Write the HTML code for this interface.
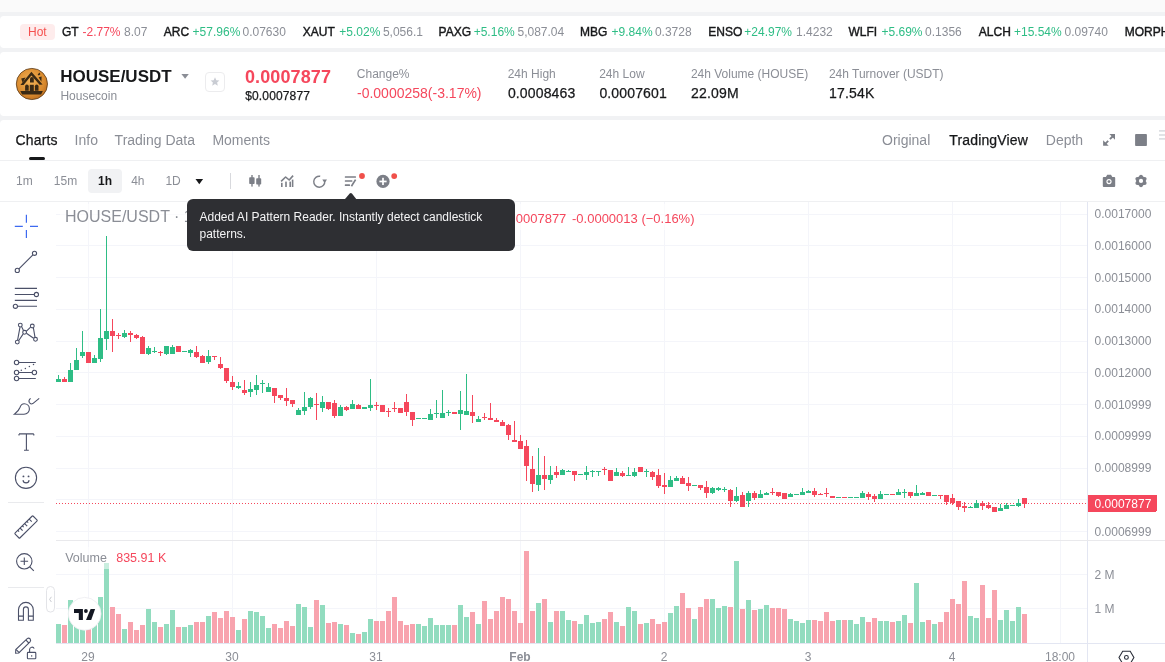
<!DOCTYPE html>
<html lang="en">
<head>
<meta charset="utf-8">
<title>HOUSE/USDT</title>
<style>
html,body{margin:0;padding:0;}
body{width:1165px;height:662px;overflow:hidden;position:relative;background:#f1f2f4;font-family:"Liberation Sans",Arial,sans-serif;}
.topband{position:absolute;left:0;top:0;width:1165px;height:12px;background:#fafafa;}
.card{position:absolute;background:#fff;border-radius:4px;}
.t{position:absolute;white-space:nowrap;}
.hot{position:absolute;left:20px;top:24px;width:35px;height:16px;border-radius:4px;background:#feecec;}
svg.ov{position:absolute;left:0;top:0;overflow:visible;}
.ax{font-size:12px;fill:#8b8e96;font-family:"Liberation Sans",Arial,sans-serif;}
text{font-family:"Liberation Sans",Arial,sans-serif;}
.hr{position:absolute;left:0;width:1165px;height:1px;background:#eff0f2;}
.tip{position:absolute;left:187px;top:199px;width:328px;height:52px;border-radius:6px;background:#2e2f33;}
.tip .tx{position:absolute;left:12.5px;top:9.8px;width:306px;color:#f4f4f5;font-size:12px;line-height:17.5px;}
</style>
</head>
<body>
<div id="wrap" style="position:absolute;left:0;top:0;width:1165px;height:662px;will-change:transform;">
<div class="topband"></div>
<div class="card" style="left:0;top:16px;width:1175px;height:32px;"></div>
<div class="card" style="left:0;top:52px;width:1175px;height:64px;"></div>
<div class="card" style="left:0;top:120px;width:1175px;height:560px;"></div>
<div class="hot"></div>
<div class="t" style="left:28px;top:25.8px;font-size:12px;line-height:12px;color:#f5514f;">Hot</div>

<!-- separators -->
<div class="hr" style="top:160px;"></div>
<div class="hr" style="top:201px;"></div>
<!-- 1h selected bg -->
<div style="position:absolute;left:88px;top:169px;width:34px;height:24px;border-radius:4px;background:#f1f2f4;"></div>
<!-- charts underline -->
<div style="position:absolute;left:29px;top:157px;width:16px;height:3px;border-radius:1.5px;background:#17181a;"></div>

<div class="t" style="left:62.0px;top:25.84px;font-size:12px;line-height:12px;color:#17181a;font-weight:400;-webkit-text-stroke:0.4px currentColor;">GT</div>
<div class="t" style="left:82.5px;top:25.84px;font-size:12px;line-height:12px;color:#f5475c;font-weight:400;">-2.77%</div>
<div class="t" style="left:124.1px;top:25.84px;font-size:12px;line-height:12px;color:#8b8e96;font-weight:400;">8.07</div>
<div class="t" style="left:163.8px;top:25.84px;font-size:12px;line-height:12px;color:#17181a;font-weight:400;-webkit-text-stroke:0.4px currentColor;">ARC</div>
<div class="t" style="left:192.6px;top:25.84px;font-size:12px;line-height:12px;color:#2ebd85;font-weight:400;">+57.96%</div>
<div class="t" style="left:242.5px;top:25.84px;font-size:12px;line-height:12px;color:#8b8e96;font-weight:400;">0.07630</div>
<div class="t" style="left:302.8px;top:25.84px;font-size:12px;line-height:12px;color:#17181a;font-weight:400;-webkit-text-stroke:0.4px currentColor;">XAUT</div>
<div class="t" style="left:339.3px;top:25.84px;font-size:12px;line-height:12px;color:#2ebd85;font-weight:400;">+5.02%</div>
<div class="t" style="left:382.9px;top:25.84px;font-size:12px;line-height:12px;color:#8b8e96;font-weight:400;">5,056.1</div>
<div class="t" style="left:438.6px;top:25.84px;font-size:12px;line-height:12px;color:#17181a;font-weight:400;-webkit-text-stroke:0.4px currentColor;">PAXG</div>
<div class="t" style="left:473.7px;top:25.84px;font-size:12px;line-height:12px;color:#2ebd85;font-weight:400;">+5.16%</div>
<div class="t" style="left:517.5px;top:25.84px;font-size:12px;line-height:12px;color:#8b8e96;font-weight:400;">5,087.04</div>
<div class="t" style="left:580.0px;top:25.84px;font-size:12px;line-height:12px;color:#17181a;font-weight:400;-webkit-text-stroke:0.4px currentColor;">MBG</div>
<div class="t" style="left:611.6px;top:25.84px;font-size:12px;line-height:12px;color:#2ebd85;font-weight:400;">+9.84%</div>
<div class="t" style="left:654.9px;top:25.84px;font-size:12px;line-height:12px;color:#8b8e96;font-weight:400;">0.3728</div>
<div class="t" style="left:708.3px;top:25.84px;font-size:12px;line-height:12px;color:#17181a;font-weight:400;-webkit-text-stroke:0.4px currentColor;">ENSO</div>
<div class="t" style="left:744.3px;top:25.84px;font-size:12px;line-height:12px;color:#2ebd85;font-weight:400;">+24.97%</div>
<div class="t" style="left:796.1px;top:25.84px;font-size:12px;line-height:12px;color:#8b8e96;font-weight:400;">1.4232</div>
<div class="t" style="left:848.5px;top:25.84px;font-size:12px;line-height:12px;color:#17181a;font-weight:400;-webkit-text-stroke:0.4px currentColor;">WLFI</div>
<div class="t" style="left:881.5px;top:25.84px;font-size:12px;line-height:12px;color:#2ebd85;font-weight:400;">+5.69%</div>
<div class="t" style="left:925.1px;top:25.84px;font-size:12px;line-height:12px;color:#8b8e96;font-weight:400;">0.1356</div>
<div class="t" style="left:978.8px;top:25.84px;font-size:12px;line-height:12px;color:#17181a;font-weight:400;-webkit-text-stroke:0.4px currentColor;">ALCH</div>
<div class="t" style="left:1014.0px;top:25.84px;font-size:12px;line-height:12px;color:#2ebd85;font-weight:400;">+15.54%</div>
<div class="t" style="left:1064.5px;top:25.84px;font-size:12px;line-height:12px;color:#8b8e96;font-weight:400;">0.09740</div>
<div class="t" style="left:1124.7px;top:25.84px;font-size:12px;line-height:12px;color:#17181a;font-weight:400;-webkit-text-stroke:0.4px currentColor;">MORPHO</div>
<div class="t" style="left:60.2px;top:68.21px;font-size:17px;line-height:17px;color:#17181a;font-weight:700;">HOUSE/USDT</div>
<div class="t" style="left:60.4px;top:89.84px;font-size:12px;line-height:12px;color:#8b8e96;font-weight:400;">Housecoin</div>
<div class="t" style="left:245.0px;top:67.56px;font-size:18px;line-height:18px;color:#f5475c;font-weight:700;letter-spacing:0.1px;">0.0007877</div>
<div class="t" style="left:245.2px;top:90.04px;font-size:12px;line-height:12px;color:#17181a;font-weight:400;-webkit-text-stroke:0.25px currentColor;letter-spacing:0.15px;">$0.0007877</div>
<div class="t" style="left:356.8px;top:67.74px;font-size:12px;line-height:12px;color:#8b8e96;font-weight:400;">Change%</div>
<div class="t" style="left:357.0px;top:86.15px;font-size:14px;line-height:14px;color:#f5475c;font-weight:400;">-0.0000258(-3.17%)</div>
<div class="t" style="left:507.7px;top:67.74px;font-size:12px;line-height:12px;color:#8b8e96;font-weight:400;">24h High</div>
<div class="t" style="left:507.9px;top:86.15px;font-size:14px;line-height:14px;color:#17181a;font-weight:400;-webkit-text-stroke:0.25px currentColor;letter-spacing:0.15px;">0.0008463</div>
<div class="t" style="left:599.2px;top:67.74px;font-size:12px;line-height:12px;color:#8b8e96;font-weight:400;">24h Low</div>
<div class="t" style="left:599.4px;top:86.15px;font-size:14px;line-height:14px;color:#17181a;font-weight:400;-webkit-text-stroke:0.25px currentColor;letter-spacing:0.15px;">0.0007601</div>
<div class="t" style="left:690.9px;top:67.74px;font-size:12px;line-height:12px;color:#8b8e96;font-weight:400;">24h Volume (HOUSE)</div>
<div class="t" style="left:691.1px;top:86.15px;font-size:14px;line-height:14px;color:#17181a;font-weight:400;-webkit-text-stroke:0.25px currentColor;letter-spacing:0.15px;">22.09M</div>
<div class="t" style="left:828.9px;top:67.74px;font-size:12px;line-height:12px;color:#8b8e96;font-weight:400;">24h Turnover (USDT)</div>
<div class="t" style="left:829.1px;top:86.15px;font-size:14px;line-height:14px;color:#17181a;font-weight:400;-webkit-text-stroke:0.25px currentColor;letter-spacing:0.15px;">17.54K</div>
<div class="t" style="left:15.6px;top:133.05px;font-size:14px;line-height:14px;color:#17181a;font-weight:400;-webkit-text-stroke:0.25px currentColor;letter-spacing:0.15px;">Charts</div>
<div class="t" style="left:74.6px;top:133.05px;font-size:14px;line-height:14px;color:#8b8e96;font-weight:400;">Info</div>
<div class="t" style="left:114.6px;top:133.05px;font-size:14px;line-height:14px;color:#8b8e96;font-weight:400;">Trading Data</div>
<div class="t" style="left:212.4px;top:133.05px;font-size:14px;line-height:14px;color:#8b8e96;font-weight:400;">Moments</div>
<div class="t" style="left:882.0px;top:133.05px;font-size:14px;line-height:14px;color:#8b8e96;font-weight:400;">Original</div>
<div class="t" style="left:949.3px;top:133.05px;font-size:14px;line-height:14px;color:#17181a;font-weight:400;-webkit-text-stroke:0.25px currentColor;letter-spacing:0.15px;">TradingView</div>
<div class="t" style="left:1045.8px;top:133.05px;font-size:14px;line-height:14px;color:#8b8e96;font-weight:400;">Depth</div>
<div class="t" style="left:16.0px;top:174.74px;font-size:12px;line-height:12px;color:#8b8e96;font-weight:400;">1m</div>
<div class="t" style="left:53.8px;top:174.74px;font-size:12px;line-height:12px;color:#8b8e96;font-weight:400;">15m</div>
<div class="t" style="left:98.0px;top:174.74px;font-size:12px;line-height:12px;color:#17181a;font-weight:700;">1h</div>
<div class="t" style="left:131.2px;top:174.74px;font-size:12px;line-height:12px;color:#8b8e96;font-weight:400;">4h</div>
<div class="t" style="left:165.4px;top:174.74px;font-size:12px;line-height:12px;color:#8b8e96;font-weight:400;">1D</div>

<!-- header icons -->
<svg class="ov" width="1165" height="662" viewBox="0 0 1165 662">
  <defs>
    <radialGradient id="coin" cx="45%" cy="40%" r="65%">
      <stop offset="0" stop-color="#f3b358"/>
      <stop offset="0.7" stop-color="#d98a2e"/>
      <stop offset="1" stop-color="#b8681c"/>
    </radialGradient>
  </defs>
  <!-- logo -->
  <circle cx="31.9" cy="84" r="15.6" fill="url(#coin)" stroke="#5a3a18" stroke-width="0.8"/>
  <g fill="#3a2914">
    <path d="M20.4 84.9 L31.4 71.7 L42.6 84.5 L39.6 84.7 L31.4 75.4 L23.6 85.1 Z"/>
    <path d="M21.2 78.4 L25.6 77.6 L22.6 82.8 Z"/>
    <path d="M38.6 77.2 L41.6 76.6 L41.4 81.8 Z"/>
    <path d="M37.6 74.4 L39.6 72.6 L40.4 74.2 L38.8 75.6 Z"/>
    <path d="M30 82.6 V78.9 A1.9 1.9 0 0 1 33.8 78.9 V82.6 Z"/>
    <path d="M25.1 90.7 V86.3 A1.8 1.8 0 0 1 28.7 86.3 V90.7 Z"/>
    <rect x="29.8" y="84.8" width="4" height="6.8"/>
    <path d="M34.9 90.7 V86.3 A1.8 1.8 0 0 1 38.5 86.3 V90.7 Z"/>
    <path d="M20.3 91 H42.9 L41.1 94.6 H22.1 Z"/>
  </g>
  <!-- dropdown triangle -->
  <path d="M181.4 74 H188.8 L185.1 78.8 Z" fill="#8b8e96"/>
  <!-- star button -->
  <rect x="205.5" y="72.5" width="19" height="19" rx="3.5" fill="#fff" stroke="#ececee" stroke-width="1"/>
  <path d="M215 77.3 L216.3 80.2 L219.4 80.5 L217.1 82.6 L217.8 85.7 L215 84.1 L212.2 85.7 L212.9 82.6 L210.6 80.5 L213.7 80.2 Z" fill="#c9ccd3"/>

  <!-- tabs right icons -->
  <g fill="#7c7f87">
    <path d="M1109.4 134.1 H1115 V139.7 Z"/>
    <path d="M1108.7 145.8 H1103.1 V140.2 Z"/>
    <rect x="1135.1" y="134.1" width="11.8" height="11.9" rx="0.8"/>
  </g>
  <path d="M1112.6 136.5 L1109.9 139.2 M1108.2 140.9 L1105.5 143.6" stroke="#7c7f87" stroke-width="1.9" fill="none"/>
  <g fill="#d5d7dc">
    <rect x="1159" y="130.2" width="8" height="1.4"/>
    <rect x="1159" y="134.3" width="8" height="1.4"/>
    <rect x="1159" y="138.2" width="8" height="1.4"/>
  </g>

  <!-- toolbar icons -->
  <!-- triangle -->
  <path d="M195.5 179 H203.1 L199.3 184.3 Z" fill="#17181a"/>
  <rect x="230" y="173" width="1" height="16" fill="#d8d9dd"/>
  <g fill="#7c7f87">
    <!-- candles icon -->
    <rect x="251.3" y="175" width="1.4" height="11.6"/>
    <rect x="249.2" y="177.3" width="5.4" height="6.8" rx="0.8"/>
    <rect x="258.3" y="175" width="1.4" height="11.6"/>
    <rect x="256.2" y="178.3" width="5.0" height="6.3" rx="0.8"/>
    <!-- indicators icon -->
    <rect x="281" y="182.8" width="1.6" height="4.2"/>
    <rect x="285.2" y="181.6" width="1.6" height="5.4"/>
    <rect x="289.4" y="181.6" width="1.6" height="5.4"/>
    <rect x="291.8" y="179.6" width="1.6" height="7.4"/>
  </g>
  <path d="M281.1 181.3 L285.6 177 L289.2 180 L293.1 175.6" fill="none" stroke="#7c7f87" stroke-width="1.6" stroke-linejoin="round"/>
  <!-- refresh -->
  <path d="M320.2 176.3 A5.5 5.5 0 1 0 324.7 181" fill="none" stroke="#7c7f87" stroke-width="1.4"/>
  <path d="M322.3 179.6 L327 179.6 L324.6 183 Z" fill="#7c7f87"/>
  <!-- pattern reader -->
  <g fill="#7c7f87">
    <rect x="344.8" y="176.2" width="11.2" height="1.6" rx="0.5"/>
    <rect x="344.8" y="180.2" width="7.6" height="1.6" rx="0.5"/>
    <rect x="344.8" y="184.3" width="5.2" height="1.6" rx="0.5"/>
  </g>
  <path d="M351.4 186.2 L355.6 179.6" stroke="#7c7f87" stroke-width="1.7" fill="none"/>
  <circle cx="362" cy="176" r="2.9" fill="#f0504a"/>
  <!-- add indicator -->
  <circle cx="383" cy="181.4" r="6.6" fill="#7c7f87"/>
  <rect x="379.4" y="180.6" width="7.2" height="1.7" fill="#fff"/>
  <rect x="382.15" y="177.8" width="1.7" height="7.2" fill="#fff"/>
  <circle cx="394.2" cy="176.1" r="2.9" fill="#f0504a"/>

  <!-- camera -->
  <path d="M1105.9 176.9 L1107.2 174.8 H1111 L1112.3 176.9 H1114.2 Q1115.2 176.9 1115.2 177.9 V186 Q1115.2 187 1114.2 187 H1103.8 Q1102.8 187 1102.8 186 V177.9 Q1102.8 176.9 1103.8 176.9 Z" fill="#7c7f87"/>
  <circle cx="1109" cy="181.6" r="2.6" fill="#fff"/>
  <circle cx="1109" cy="181.6" r="1.4" fill="#7c7f87"/>
  <!-- gear -->
  <circle cx="1141" cy="180.95" r="4.9" fill="#7c7f87"/>
  <circle cx="1141.00" cy="185.25" r="1.9" fill="#7c7f87"/>
  <circle cx="1137.28" cy="183.10" r="1.9" fill="#7c7f87"/>
  <circle cx="1137.28" cy="178.80" r="1.9" fill="#7c7f87"/>
  <circle cx="1141.00" cy="176.65" r="1.9" fill="#7c7f87"/>
  <circle cx="1144.72" cy="178.80" r="1.9" fill="#7c7f87"/>
  <circle cx="1144.72" cy="183.10" r="1.9" fill="#7c7f87"/>
  <circle cx="1141" cy="180.95" r="2.1" fill="#fff"/>
</svg>

<!-- chart -->
<svg class="ov" width="1165" height="662" viewBox="0 0 1165 662" shape-rendering="crispEdges">
<rect x="56" y="214" width="1031" height="1" fill="#f4f5fa"/>
<rect x="56" y="245" width="1031" height="1" fill="#f4f5fa"/>
<rect x="56" y="277" width="1031" height="1" fill="#f4f5fa"/>
<rect x="56" y="309" width="1031" height="1" fill="#f4f5fa"/>
<rect x="56" y="341" width="1031" height="1" fill="#f4f5fa"/>
<rect x="56" y="372" width="1031" height="1" fill="#f4f5fa"/>
<rect x="56" y="404" width="1031" height="1" fill="#f4f5fa"/>
<rect x="56" y="436" width="1031" height="1" fill="#f4f5fa"/>
<rect x="56" y="468" width="1031" height="1" fill="#f4f5fa"/>
<rect x="56" y="499" width="1031" height="1" fill="#f4f5fa"/>
<rect x="56" y="531" width="1031" height="1" fill="#f4f5fa"/>
<rect x="56" y="574" width="1031" height="1" fill="#f4f5fa"/>
<rect x="56" y="608" width="1031" height="1" fill="#f4f5fa"/>
<rect x="88" y="202" width="1" height="441" fill="#f4f5fa"/>
<rect x="232" y="202" width="1" height="441" fill="#f4f5fa"/>
<rect x="376" y="202" width="1" height="441" fill="#f4f5fa"/>
<rect x="520" y="202" width="1" height="441" fill="#f4f5fa"/>
<rect x="664" y="202" width="1" height="441" fill="#f4f5fa"/>
<rect x="808" y="202" width="1" height="441" fill="#f4f5fa"/>
<rect x="952" y="202" width="1" height="441" fill="#f4f5fa"/>
<rect x="1060" y="202" width="1" height="441" fill="#f4f5fa"/>
<rect x="1087" y="202" width="1" height="460" fill="#e3e6f2"/>
<rect x="56" y="540" width="1109" height="1" fill="#e9e9ec"/>
<rect x="56" y="643" width="1109" height="1" fill="#e3e6f2"/>
<rect x="56" y="624" width="5" height="19" fill="#92dcbf"/>
<rect x="62" y="625" width="5" height="18" fill="#f8a3ae"/>
<rect x="68" y="600" width="5" height="43" fill="#92dcbf"/>
<rect x="74" y="605" width="5" height="38" fill="#92dcbf"/>
<rect x="80" y="612" width="5" height="31" fill="#92dcbf"/>
<rect x="86" y="615" width="5" height="28" fill="#f8a3ae"/>
<rect x="92" y="610" width="5" height="33" fill="#92dcbf"/>
<rect x="98" y="597" width="5" height="46" fill="#92dcbf"/>
<rect x="104" y="563" width="5" height="80" fill="#92dcbf"/>
<rect x="110" y="607" width="5" height="36" fill="#f8a3ae"/>
<rect x="116" y="614" width="5" height="29" fill="#f8a3ae"/>
<rect x="122" y="629" width="5" height="14" fill="#92dcbf"/>
<rect x="128" y="622" width="5" height="21" fill="#f8a3ae"/>
<rect x="134" y="630" width="5" height="13" fill="#f8a3ae"/>
<rect x="140" y="625" width="5" height="18" fill="#f8a3ae"/>
<rect x="146" y="609" width="5" height="34" fill="#92dcbf"/>
<rect x="152" y="622" width="5" height="21" fill="#92dcbf"/>
<rect x="158" y="627" width="5" height="16" fill="#f8a3ae"/>
<rect x="164" y="624" width="5" height="19" fill="#92dcbf"/>
<rect x="170" y="610" width="5" height="33" fill="#92dcbf"/>
<rect x="176" y="627" width="5" height="16" fill="#f8a3ae"/>
<rect x="182" y="627" width="5" height="16" fill="#92dcbf"/>
<rect x="188" y="625" width="5" height="18" fill="#92dcbf"/>
<rect x="194" y="622" width="5" height="21" fill="#f8a3ae"/>
<rect x="200" y="622" width="5" height="21" fill="#f8a3ae"/>
<rect x="206" y="616" width="5" height="27" fill="#92dcbf"/>
<rect x="212" y="612" width="5" height="31" fill="#f8a3ae"/>
<rect x="218" y="618" width="5" height="25" fill="#f8a3ae"/>
<rect x="224" y="611" width="5" height="32" fill="#f8a3ae"/>
<rect x="230" y="617" width="5" height="26" fill="#f8a3ae"/>
<rect x="236" y="630" width="5" height="13" fill="#92dcbf"/>
<rect x="242" y="619" width="5" height="24" fill="#f8a3ae"/>
<rect x="248" y="611" width="5" height="32" fill="#92dcbf"/>
<rect x="254" y="612" width="5" height="31" fill="#92dcbf"/>
<rect x="260" y="616" width="5" height="27" fill="#92dcbf"/>
<rect x="266" y="628" width="5" height="15" fill="#92dcbf"/>
<rect x="272" y="624" width="5" height="19" fill="#f8a3ae"/>
<rect x="278" y="628" width="5" height="15" fill="#f8a3ae"/>
<rect x="284" y="621" width="5" height="22" fill="#f8a3ae"/>
<rect x="290" y="626" width="5" height="17" fill="#f8a3ae"/>
<rect x="296" y="604" width="5" height="39" fill="#92dcbf"/>
<rect x="302" y="607" width="5" height="36" fill="#92dcbf"/>
<rect x="308" y="627" width="5" height="16" fill="#92dcbf"/>
<rect x="314" y="600" width="5" height="43" fill="#f8a3ae"/>
<rect x="320" y="605" width="5" height="38" fill="#92dcbf"/>
<rect x="326" y="623" width="5" height="20" fill="#f8a3ae"/>
<rect x="332" y="622" width="5" height="21" fill="#f8a3ae"/>
<rect x="338" y="624" width="5" height="19" fill="#92dcbf"/>
<rect x="344" y="625" width="5" height="18" fill="#f8a3ae"/>
<rect x="350" y="633" width="5" height="10" fill="#92dcbf"/>
<rect x="356" y="634" width="5" height="9" fill="#f8a3ae"/>
<rect x="362" y="632" width="5" height="11" fill="#92dcbf"/>
<rect x="368" y="619" width="5" height="24" fill="#92dcbf"/>
<rect x="374" y="621" width="5" height="22" fill="#f8a3ae"/>
<rect x="380" y="621" width="5" height="22" fill="#f8a3ae"/>
<rect x="386" y="611" width="5" height="32" fill="#f8a3ae"/>
<rect x="392" y="597" width="5" height="46" fill="#f8a3ae"/>
<rect x="398" y="621" width="5" height="22" fill="#f8a3ae"/>
<rect x="404" y="625" width="5" height="18" fill="#f8a3ae"/>
<rect x="410" y="624" width="5" height="19" fill="#f8a3ae"/>
<rect x="416" y="624" width="5" height="19" fill="#92dcbf"/>
<rect x="422" y="626" width="5" height="17" fill="#92dcbf"/>
<rect x="428" y="618" width="5" height="25" fill="#92dcbf"/>
<rect x="434" y="625" width="5" height="18" fill="#92dcbf"/>
<rect x="440" y="625" width="5" height="18" fill="#92dcbf"/>
<rect x="446" y="625" width="5" height="18" fill="#92dcbf"/>
<rect x="452" y="625" width="5" height="18" fill="#f8a3ae"/>
<rect x="458" y="605" width="5" height="38" fill="#92dcbf"/>
<rect x="464" y="617" width="5" height="26" fill="#92dcbf"/>
<rect x="470" y="612" width="5" height="31" fill="#f8a3ae"/>
<rect x="476" y="624" width="5" height="19" fill="#92dcbf"/>
<rect x="482" y="601" width="5" height="42" fill="#f8a3ae"/>
<rect x="488" y="619" width="5" height="24" fill="#f8a3ae"/>
<rect x="494" y="611" width="5" height="32" fill="#f8a3ae"/>
<rect x="500" y="597" width="5" height="46" fill="#f8a3ae"/>
<rect x="506" y="599" width="5" height="44" fill="#f8a3ae"/>
<rect x="512" y="611" width="5" height="32" fill="#f8a3ae"/>
<rect x="518" y="623" width="5" height="20" fill="#f8a3ae"/>
<rect x="524" y="551" width="5" height="92" fill="#f8a3ae"/>
<rect x="530" y="611" width="5" height="32" fill="#f8a3ae"/>
<rect x="536" y="603" width="5" height="40" fill="#92dcbf"/>
<rect x="542" y="599" width="5" height="44" fill="#f8a3ae"/>
<rect x="548" y="622" width="5" height="21" fill="#92dcbf"/>
<rect x="554" y="611" width="5" height="32" fill="#f8a3ae"/>
<rect x="560" y="611" width="5" height="32" fill="#92dcbf"/>
<rect x="566" y="620" width="5" height="23" fill="#92dcbf"/>
<rect x="572" y="621" width="5" height="22" fill="#f8a3ae"/>
<rect x="578" y="624" width="5" height="19" fill="#92dcbf"/>
<rect x="584" y="615" width="5" height="28" fill="#92dcbf"/>
<rect x="590" y="623" width="5" height="20" fill="#92dcbf"/>
<rect x="596" y="622" width="5" height="21" fill="#92dcbf"/>
<rect x="602" y="619" width="5" height="24" fill="#f8a3ae"/>
<rect x="608" y="612" width="5" height="31" fill="#f8a3ae"/>
<rect x="614" y="622" width="5" height="21" fill="#92dcbf"/>
<rect x="620" y="626" width="5" height="17" fill="#f8a3ae"/>
<rect x="626" y="607" width="5" height="36" fill="#92dcbf"/>
<rect x="632" y="611" width="5" height="32" fill="#92dcbf"/>
<rect x="638" y="624" width="5" height="19" fill="#f8a3ae"/>
<rect x="644" y="623" width="5" height="20" fill="#92dcbf"/>
<rect x="650" y="619" width="5" height="24" fill="#f8a3ae"/>
<rect x="656" y="624" width="5" height="19" fill="#f8a3ae"/>
<rect x="662" y="622" width="5" height="21" fill="#f8a3ae"/>
<rect x="668" y="613" width="5" height="30" fill="#92dcbf"/>
<rect x="674" y="606" width="5" height="37" fill="#92dcbf"/>
<rect x="680" y="593" width="5" height="50" fill="#f8a3ae"/>
<rect x="686" y="608" width="5" height="35" fill="#f8a3ae"/>
<rect x="692" y="619" width="5" height="24" fill="#92dcbf"/>
<rect x="698" y="607" width="5" height="36" fill="#f8a3ae"/>
<rect x="704" y="599" width="5" height="44" fill="#f8a3ae"/>
<rect x="710" y="599" width="5" height="44" fill="#92dcbf"/>
<rect x="716" y="608" width="5" height="35" fill="#92dcbf"/>
<rect x="722" y="606" width="5" height="37" fill="#92dcbf"/>
<rect x="728" y="607" width="5" height="36" fill="#f8a3ae"/>
<rect x="734" y="561" width="5" height="82" fill="#92dcbf"/>
<rect x="740" y="609" width="5" height="34" fill="#f8a3ae"/>
<rect x="746" y="600" width="5" height="43" fill="#92dcbf"/>
<rect x="752" y="610" width="5" height="33" fill="#f8a3ae"/>
<rect x="758" y="609" width="5" height="34" fill="#92dcbf"/>
<rect x="764" y="605" width="5" height="38" fill="#92dcbf"/>
<rect x="770" y="608" width="5" height="35" fill="#f8a3ae"/>
<rect x="776" y="608" width="5" height="35" fill="#f8a3ae"/>
<rect x="782" y="609" width="5" height="34" fill="#f8a3ae"/>
<rect x="788" y="619" width="5" height="24" fill="#92dcbf"/>
<rect x="794" y="621" width="5" height="22" fill="#92dcbf"/>
<rect x="800" y="623" width="5" height="20" fill="#92dcbf"/>
<rect x="806" y="620" width="5" height="23" fill="#92dcbf"/>
<rect x="812" y="620" width="5" height="23" fill="#f8a3ae"/>
<rect x="818" y="621" width="5" height="22" fill="#f8a3ae"/>
<rect x="824" y="612" width="5" height="31" fill="#f8a3ae"/>
<rect x="830" y="621" width="5" height="22" fill="#f8a3ae"/>
<rect x="836" y="620" width="5" height="23" fill="#92dcbf"/>
<rect x="842" y="620" width="5" height="23" fill="#f8a3ae"/>
<rect x="848" y="620" width="5" height="23" fill="#92dcbf"/>
<rect x="854" y="624" width="5" height="19" fill="#92dcbf"/>
<rect x="860" y="617" width="5" height="26" fill="#92dcbf"/>
<rect x="866" y="622" width="5" height="21" fill="#f8a3ae"/>
<rect x="872" y="618" width="5" height="25" fill="#f8a3ae"/>
<rect x="878" y="621" width="5" height="22" fill="#92dcbf"/>
<rect x="884" y="621" width="5" height="22" fill="#92dcbf"/>
<rect x="890" y="622" width="5" height="21" fill="#f8a3ae"/>
<rect x="896" y="621" width="5" height="22" fill="#92dcbf"/>
<rect x="902" y="615" width="5" height="28" fill="#92dcbf"/>
<rect x="908" y="623" width="5" height="20" fill="#f8a3ae"/>
<rect x="914" y="583" width="5" height="60" fill="#92dcbf"/>
<rect x="920" y="622" width="5" height="21" fill="#92dcbf"/>
<rect x="926" y="620" width="5" height="23" fill="#f8a3ae"/>
<rect x="932" y="624" width="5" height="19" fill="#92dcbf"/>
<rect x="938" y="622" width="5" height="21" fill="#f8a3ae"/>
<rect x="944" y="612" width="5" height="31" fill="#f8a3ae"/>
<rect x="950" y="599" width="5" height="44" fill="#f8a3ae"/>
<rect x="956" y="604" width="5" height="39" fill="#f8a3ae"/>
<rect x="962" y="581" width="5" height="62" fill="#f8a3ae"/>
<rect x="968" y="616" width="5" height="27" fill="#92dcbf"/>
<rect x="974" y="618" width="5" height="25" fill="#92dcbf"/>
<rect x="980" y="585" width="5" height="58" fill="#f8a3ae"/>
<rect x="986" y="618" width="5" height="25" fill="#f8a3ae"/>
<rect x="992" y="590" width="5" height="53" fill="#f8a3ae"/>
<rect x="998" y="620" width="5" height="23" fill="#92dcbf"/>
<rect x="1004" y="610" width="5" height="33" fill="#92dcbf"/>
<rect x="1010" y="621" width="5" height="22" fill="#92dcbf"/>
<rect x="1016" y="607" width="5" height="36" fill="#92dcbf"/>
<rect x="1022" y="614" width="5" height="29" fill="#f8a3ae"/>
<rect x="60" y="547" width="112" height="22" fill="#ffffff" fill-opacity="0.5"/>
<line x1="56" y1="503.5" x2="1087" y2="503.5" stroke="#f5475c" stroke-width="1" stroke-dasharray="1 2"/>
<rect x="58" y="375" width="1" height="7" fill="#2ebd85"/>
<rect x="56" y="379" width="5" height="3" fill="#2ebd85"/>
<rect x="64" y="377" width="1" height="5" fill="#f5475c"/>
<rect x="62" y="379" width="5" height="3" fill="#f5475c"/>
<rect x="70" y="363" width="1" height="19" fill="#2ebd85"/>
<rect x="68" y="370" width="5" height="12" fill="#2ebd85"/>
<rect x="76" y="348" width="1" height="22" fill="#2ebd85"/>
<rect x="74" y="360" width="5" height="10" fill="#2ebd85"/>
<rect x="82" y="331" width="1" height="27" fill="#2ebd85"/>
<rect x="80" y="352" width="5" height="4" fill="#2ebd85"/>
<rect x="86" y="352" width="5" height="11" fill="#f5475c"/>
<rect x="94" y="355" width="1" height="8" fill="#2ebd85"/>
<rect x="92" y="358" width="5" height="5" fill="#2ebd85"/>
<rect x="100" y="309" width="1" height="53" fill="#2ebd85"/>
<rect x="98" y="338" width="5" height="21" fill="#2ebd85"/>
<rect x="106" y="236" width="1" height="114" fill="#2ebd85"/>
<rect x="104" y="331" width="5" height="8" fill="#2ebd85"/>
<rect x="112" y="319" width="1" height="33" fill="#f5475c"/>
<rect x="110" y="331" width="5" height="5" fill="#f5475c"/>
<rect x="118" y="333" width="1" height="6" fill="#f5475c"/>
<rect x="116" y="335" width="5" height="1" fill="#f5475c"/>
<rect x="124" y="330" width="1" height="8" fill="#2ebd85"/>
<rect x="122" y="333" width="5" height="4" fill="#2ebd85"/>
<rect x="130" y="331" width="1" height="11" fill="#f5475c"/>
<rect x="128" y="333" width="5" height="2" fill="#f5475c"/>
<rect x="136" y="334" width="1" height="5" fill="#f5475c"/>
<rect x="134" y="335" width="5" height="3" fill="#f5475c"/>
<rect x="142" y="336" width="1" height="18" fill="#f5475c"/>
<rect x="140" y="337" width="5" height="17" fill="#f5475c"/>
<rect x="148" y="346" width="1" height="9" fill="#2ebd85"/>
<rect x="146" y="348" width="5" height="6" fill="#2ebd85"/>
<rect x="154" y="347" width="1" height="6" fill="#2ebd85"/>
<rect x="152" y="351" width="5" height="1" fill="#2ebd85"/>
<rect x="160" y="351" width="1" height="5" fill="#f5475c"/>
<rect x="158" y="352" width="5" height="1" fill="#f5475c"/>
<rect x="166" y="346" width="1" height="9" fill="#2ebd85"/>
<rect x="164" y="346" width="5" height="8" fill="#2ebd85"/>
<rect x="172" y="345" width="1" height="9" fill="#2ebd85"/>
<rect x="170" y="347" width="5" height="7" fill="#2ebd85"/>
<rect x="176" y="346" width="5" height="6" fill="#f5475c"/>
<rect x="182" y="351" width="5" height="1" fill="#2ebd85"/>
<rect x="190" y="349" width="1" height="8" fill="#2ebd85"/>
<rect x="188" y="350" width="5" height="3" fill="#2ebd85"/>
<rect x="196" y="346" width="1" height="12" fill="#f5475c"/>
<rect x="194" y="352" width="5" height="5" fill="#f5475c"/>
<rect x="202" y="355" width="1" height="8" fill="#f5475c"/>
<rect x="200" y="356" width="5" height="7" fill="#f5475c"/>
<rect x="208" y="350" width="1" height="14" fill="#2ebd85"/>
<rect x="206" y="356" width="5" height="6" fill="#2ebd85"/>
<rect x="214" y="356" width="1" height="4" fill="#f5475c"/>
<rect x="212" y="356" width="5" height="1" fill="#f5475c"/>
<rect x="220" y="357" width="1" height="12" fill="#f5475c"/>
<rect x="218" y="364" width="5" height="4" fill="#f5475c"/>
<rect x="226" y="368" width="1" height="15" fill="#f5475c"/>
<rect x="224" y="368" width="5" height="13" fill="#f5475c"/>
<rect x="232" y="376" width="1" height="14" fill="#f5475c"/>
<rect x="230" y="382" width="5" height="5" fill="#f5475c"/>
<rect x="238" y="382" width="1" height="7" fill="#2ebd85"/>
<rect x="236" y="386" width="5" height="2" fill="#2ebd85"/>
<rect x="244" y="380" width="1" height="15" fill="#f5475c"/>
<rect x="242" y="390" width="5" height="3" fill="#f5475c"/>
<rect x="250" y="382" width="1" height="15" fill="#2ebd85"/>
<rect x="248" y="389" width="5" height="3" fill="#2ebd85"/>
<rect x="256" y="375" width="1" height="20" fill="#2ebd85"/>
<rect x="254" y="385" width="5" height="5" fill="#2ebd85"/>
<rect x="262" y="380" width="1" height="13" fill="#2ebd85"/>
<rect x="260" y="383" width="5" height="1" fill="#2ebd85"/>
<rect x="268" y="383" width="1" height="9" fill="#2ebd85"/>
<rect x="266" y="387" width="5" height="5" fill="#2ebd85"/>
<rect x="274" y="388" width="1" height="15" fill="#f5475c"/>
<rect x="272" y="388" width="5" height="8" fill="#f5475c"/>
<rect x="280" y="395" width="1" height="5" fill="#f5475c"/>
<rect x="278" y="395" width="5" height="3" fill="#f5475c"/>
<rect x="286" y="388" width="1" height="18" fill="#f5475c"/>
<rect x="284" y="398" width="5" height="3" fill="#f5475c"/>
<rect x="292" y="400" width="1" height="7" fill="#f5475c"/>
<rect x="290" y="400" width="5" height="4" fill="#f5475c"/>
<rect x="298" y="408" width="1" height="7" fill="#2ebd85"/>
<rect x="296" y="410" width="5" height="5" fill="#2ebd85"/>
<rect x="304" y="392" width="1" height="23" fill="#2ebd85"/>
<rect x="302" y="407" width="5" height="4" fill="#2ebd85"/>
<rect x="310" y="397" width="1" height="12" fill="#2ebd85"/>
<rect x="308" y="398" width="5" height="9" fill="#2ebd85"/>
<rect x="316" y="393" width="1" height="27" fill="#f5475c"/>
<rect x="314" y="404" width="5" height="1" fill="#f5475c"/>
<rect x="322" y="396" width="1" height="16" fill="#2ebd85"/>
<rect x="320" y="402" width="5" height="6" fill="#2ebd85"/>
<rect x="328" y="402" width="1" height="8" fill="#f5475c"/>
<rect x="326" y="402" width="5" height="7" fill="#f5475c"/>
<rect x="334" y="400" width="1" height="18" fill="#f5475c"/>
<rect x="332" y="403" width="5" height="13" fill="#f5475c"/>
<rect x="340" y="405" width="1" height="11" fill="#2ebd85"/>
<rect x="338" y="407" width="5" height="9" fill="#2ebd85"/>
<rect x="346" y="406" width="1" height="5" fill="#f5475c"/>
<rect x="344" y="407" width="5" height="3" fill="#f5475c"/>
<rect x="352" y="400" width="1" height="9" fill="#2ebd85"/>
<rect x="350" y="404" width="5" height="5" fill="#2ebd85"/>
<rect x="358" y="404" width="1" height="5" fill="#f5475c"/>
<rect x="356" y="405" width="5" height="4" fill="#f5475c"/>
<rect x="362" y="407" width="5" height="2" fill="#2ebd85"/>
<rect x="370" y="379" width="1" height="32" fill="#2ebd85"/>
<rect x="368" y="405" width="5" height="3" fill="#2ebd85"/>
<rect x="376" y="402" width="1" height="8" fill="#f5475c"/>
<rect x="374" y="405" width="5" height="1" fill="#f5475c"/>
<rect x="380" y="405" width="5" height="7" fill="#f5475c"/>
<rect x="388" y="408" width="1" height="9" fill="#f5475c"/>
<rect x="386" y="411" width="5" height="1" fill="#f5475c"/>
<rect x="394" y="402" width="1" height="10" fill="#f5475c"/>
<rect x="392" y="408" width="5" height="1" fill="#f5475c"/>
<rect x="398" y="408" width="5" height="5" fill="#f5475c"/>
<rect x="406" y="394" width="1" height="22" fill="#f5475c"/>
<rect x="404" y="402" width="5" height="10" fill="#f5475c"/>
<rect x="412" y="412" width="1" height="14" fill="#f5475c"/>
<rect x="410" y="412" width="5" height="8" fill="#f5475c"/>
<rect x="416" y="418" width="5" height="1" fill="#2ebd85"/>
<rect x="422" y="418" width="5" height="1" fill="#2ebd85"/>
<rect x="430" y="409" width="1" height="11" fill="#2ebd85"/>
<rect x="428" y="414" width="5" height="6" fill="#2ebd85"/>
<rect x="436" y="400" width="1" height="18" fill="#2ebd85"/>
<rect x="434" y="413" width="5" height="1" fill="#2ebd85"/>
<rect x="442" y="390" width="1" height="28" fill="#2ebd85"/>
<rect x="440" y="413" width="5" height="5" fill="#2ebd85"/>
<rect x="448" y="410" width="1" height="6" fill="#2ebd85"/>
<rect x="446" y="412" width="5" height="1" fill="#2ebd85"/>
<rect x="452" y="412" width="5" height="2" fill="#f5475c"/>
<rect x="460" y="391" width="1" height="39" fill="#2ebd85"/>
<rect x="458" y="410" width="5" height="4" fill="#2ebd85"/>
<rect x="466" y="374" width="1" height="41" fill="#2ebd85"/>
<rect x="464" y="411" width="5" height="4" fill="#2ebd85"/>
<rect x="472" y="395" width="1" height="28" fill="#f5475c"/>
<rect x="470" y="412" width="5" height="4" fill="#f5475c"/>
<rect x="478" y="416" width="1" height="6" fill="#2ebd85"/>
<rect x="476" y="419" width="5" height="3" fill="#2ebd85"/>
<rect x="484" y="413" width="1" height="7" fill="#f5475c"/>
<rect x="482" y="417" width="5" height="1" fill="#f5475c"/>
<rect x="490" y="403" width="1" height="17" fill="#f5475c"/>
<rect x="488" y="418" width="5" height="2" fill="#f5475c"/>
<rect x="496" y="418" width="1" height="4" fill="#f5475c"/>
<rect x="494" y="420" width="5" height="2" fill="#f5475c"/>
<rect x="502" y="420" width="1" height="6" fill="#f5475c"/>
<rect x="500" y="422" width="5" height="4" fill="#f5475c"/>
<rect x="508" y="424" width="1" height="16" fill="#f5475c"/>
<rect x="506" y="425" width="5" height="10" fill="#f5475c"/>
<rect x="514" y="421" width="1" height="21" fill="#f5475c"/>
<rect x="512" y="440" width="5" height="2" fill="#f5475c"/>
<rect x="520" y="435" width="1" height="14" fill="#f5475c"/>
<rect x="518" y="441" width="5" height="8" fill="#f5475c"/>
<rect x="526" y="440" width="1" height="41" fill="#f5475c"/>
<rect x="524" y="446" width="5" height="20" fill="#f5475c"/>
<rect x="532" y="456" width="1" height="36" fill="#f5475c"/>
<rect x="530" y="469" width="5" height="15" fill="#f5475c"/>
<rect x="538" y="448" width="1" height="43" fill="#2ebd85"/>
<rect x="536" y="475" width="5" height="10" fill="#2ebd85"/>
<rect x="544" y="456" width="1" height="34" fill="#f5475c"/>
<rect x="542" y="475" width="5" height="4" fill="#f5475c"/>
<rect x="550" y="466" width="1" height="18" fill="#2ebd85"/>
<rect x="548" y="475" width="5" height="5" fill="#2ebd85"/>
<rect x="556" y="466" width="1" height="12" fill="#f5475c"/>
<rect x="554" y="472" width="5" height="3" fill="#f5475c"/>
<rect x="562" y="469" width="1" height="6" fill="#2ebd85"/>
<rect x="560" y="470" width="5" height="5" fill="#2ebd85"/>
<rect x="568" y="470" width="1" height="2" fill="#2ebd85"/>
<rect x="566" y="471" width="5" height="1" fill="#2ebd85"/>
<rect x="574" y="471" width="1" height="10" fill="#f5475c"/>
<rect x="572" y="471" width="5" height="4" fill="#f5475c"/>
<rect x="578" y="474" width="5" height="1" fill="#2ebd85"/>
<rect x="586" y="466" width="1" height="14" fill="#2ebd85"/>
<rect x="584" y="472" width="5" height="3" fill="#2ebd85"/>
<rect x="592" y="470" width="1" height="7" fill="#2ebd85"/>
<rect x="590" y="471" width="5" height="1" fill="#2ebd85"/>
<rect x="598" y="471" width="1" height="5" fill="#2ebd85"/>
<rect x="596" y="471" width="5" height="1" fill="#2ebd85"/>
<rect x="604" y="467" width="1" height="8" fill="#f5475c"/>
<rect x="602" y="469" width="5" height="1" fill="#f5475c"/>
<rect x="608" y="470" width="5" height="11" fill="#f5475c"/>
<rect x="616" y="468" width="1" height="8" fill="#2ebd85"/>
<rect x="614" y="472" width="5" height="4" fill="#2ebd85"/>
<rect x="622" y="471" width="1" height="6" fill="#f5475c"/>
<rect x="620" y="473" width="5" height="3" fill="#f5475c"/>
<rect x="628" y="467" width="1" height="9" fill="#2ebd85"/>
<rect x="626" y="475" width="5" height="1" fill="#2ebd85"/>
<rect x="634" y="468" width="1" height="9" fill="#2ebd85"/>
<rect x="632" y="472" width="5" height="4" fill="#2ebd85"/>
<rect x="638" y="467" width="5" height="5" fill="#f5475c"/>
<rect x="646" y="469" width="1" height="8" fill="#2ebd85"/>
<rect x="644" y="471" width="5" height="1" fill="#2ebd85"/>
<rect x="652" y="471" width="1" height="9" fill="#f5475c"/>
<rect x="650" y="472" width="5" height="5" fill="#f5475c"/>
<rect x="658" y="469" width="1" height="19" fill="#f5475c"/>
<rect x="656" y="475" width="5" height="11" fill="#f5475c"/>
<rect x="664" y="473" width="1" height="21" fill="#f5475c"/>
<rect x="662" y="485" width="5" height="2" fill="#f5475c"/>
<rect x="670" y="476" width="1" height="11" fill="#2ebd85"/>
<rect x="668" y="480" width="5" height="7" fill="#2ebd85"/>
<rect x="676" y="476" width="1" height="5" fill="#2ebd85"/>
<rect x="674" y="478" width="5" height="3" fill="#2ebd85"/>
<rect x="682" y="476" width="1" height="8" fill="#f5475c"/>
<rect x="680" y="478" width="5" height="6" fill="#f5475c"/>
<rect x="688" y="477" width="1" height="14" fill="#f5475c"/>
<rect x="686" y="483" width="5" height="3" fill="#f5475c"/>
<rect x="692" y="485" width="5" height="1" fill="#2ebd85"/>
<rect x="700" y="485" width="1" height="5" fill="#f5475c"/>
<rect x="698" y="485" width="5" height="3" fill="#f5475c"/>
<rect x="706" y="481" width="1" height="17" fill="#f5475c"/>
<rect x="704" y="487" width="5" height="6" fill="#f5475c"/>
<rect x="712" y="487" width="1" height="7" fill="#2ebd85"/>
<rect x="710" y="488" width="5" height="5" fill="#2ebd85"/>
<rect x="718" y="487" width="1" height="4" fill="#2ebd85"/>
<rect x="716" y="488" width="5" height="2" fill="#2ebd85"/>
<rect x="724" y="487" width="1" height="5" fill="#2ebd85"/>
<rect x="722" y="489" width="5" height="1" fill="#2ebd85"/>
<rect x="730" y="489" width="1" height="18" fill="#f5475c"/>
<rect x="728" y="490" width="5" height="11" fill="#f5475c"/>
<rect x="736" y="487" width="1" height="15" fill="#2ebd85"/>
<rect x="734" y="496" width="5" height="5" fill="#2ebd85"/>
<rect x="742" y="492" width="1" height="15" fill="#f5475c"/>
<rect x="740" y="495" width="5" height="12" fill="#f5475c"/>
<rect x="748" y="491" width="1" height="16" fill="#2ebd85"/>
<rect x="746" y="493" width="5" height="8" fill="#2ebd85"/>
<rect x="754" y="491" width="1" height="9" fill="#f5475c"/>
<rect x="752" y="493" width="5" height="5" fill="#f5475c"/>
<rect x="760" y="490" width="1" height="8" fill="#2ebd85"/>
<rect x="758" y="494" width="5" height="4" fill="#2ebd85"/>
<rect x="766" y="492" width="1" height="3" fill="#2ebd85"/>
<rect x="764" y="493" width="5" height="2" fill="#2ebd85"/>
<rect x="772" y="488" width="1" height="7" fill="#f5475c"/>
<rect x="770" y="492" width="5" height="1" fill="#f5475c"/>
<rect x="778" y="492" width="1" height="5" fill="#f5475c"/>
<rect x="776" y="492" width="5" height="4" fill="#f5475c"/>
<rect x="782" y="493" width="5" height="6" fill="#f5475c"/>
<rect x="790" y="493" width="1" height="4" fill="#2ebd85"/>
<rect x="788" y="494" width="5" height="3" fill="#2ebd85"/>
<rect x="794" y="494" width="5" height="1" fill="#2ebd85"/>
<rect x="802" y="488" width="1" height="7" fill="#2ebd85"/>
<rect x="800" y="492" width="5" height="3" fill="#2ebd85"/>
<rect x="808" y="490" width="1" height="3" fill="#2ebd85"/>
<rect x="806" y="491" width="5" height="2" fill="#2ebd85"/>
<rect x="814" y="488" width="1" height="9" fill="#f5475c"/>
<rect x="812" y="491" width="5" height="4" fill="#f5475c"/>
<rect x="820" y="493" width="1" height="2" fill="#f5475c"/>
<rect x="818" y="494" width="5" height="1" fill="#f5475c"/>
<rect x="826" y="488" width="1" height="9" fill="#f5475c"/>
<rect x="824" y="493" width="5" height="1" fill="#f5475c"/>
<rect x="830" y="496" width="5" height="2" fill="#f5475c"/>
<rect x="836" y="497" width="5" height="1" fill="#2ebd85"/>
<rect x="842" y="497" width="5" height="1" fill="#f5475c"/>
<rect x="848" y="497" width="5" height="1" fill="#2ebd85"/>
<rect x="854" y="497" width="5" height="1" fill="#2ebd85"/>
<rect x="862" y="491" width="1" height="7" fill="#2ebd85"/>
<rect x="860" y="493" width="5" height="5" fill="#2ebd85"/>
<rect x="868" y="492" width="1" height="8" fill="#f5475c"/>
<rect x="866" y="494" width="5" height="3" fill="#f5475c"/>
<rect x="874" y="494" width="1" height="8" fill="#f5475c"/>
<rect x="872" y="496" width="5" height="3" fill="#f5475c"/>
<rect x="880" y="491" width="1" height="8" fill="#2ebd85"/>
<rect x="878" y="494" width="5" height="5" fill="#2ebd85"/>
<rect x="884" y="494" width="5" height="1" fill="#2ebd85"/>
<rect x="890" y="494" width="5" height="1" fill="#f5475c"/>
<rect x="898" y="489" width="1" height="6" fill="#2ebd85"/>
<rect x="896" y="492" width="5" height="3" fill="#2ebd85"/>
<rect x="904" y="489" width="1" height="9" fill="#2ebd85"/>
<rect x="902" y="492" width="5" height="1" fill="#2ebd85"/>
<rect x="910" y="492" width="1" height="6" fill="#f5475c"/>
<rect x="908" y="492" width="5" height="4" fill="#f5475c"/>
<rect x="916" y="485" width="1" height="11" fill="#2ebd85"/>
<rect x="914" y="493" width="5" height="3" fill="#2ebd85"/>
<rect x="922" y="492" width="1" height="3" fill="#2ebd85"/>
<rect x="920" y="493" width="5" height="2" fill="#2ebd85"/>
<rect x="926" y="492" width="5" height="4" fill="#f5475c"/>
<rect x="932" y="495" width="5" height="1" fill="#2ebd85"/>
<rect x="940" y="495" width="1" height="4" fill="#f5475c"/>
<rect x="938" y="495" width="5" height="1" fill="#f5475c"/>
<rect x="946" y="495" width="1" height="10" fill="#f5475c"/>
<rect x="944" y="495" width="5" height="7" fill="#f5475c"/>
<rect x="952" y="494" width="1" height="11" fill="#f5475c"/>
<rect x="950" y="498" width="5" height="5" fill="#f5475c"/>
<rect x="958" y="501" width="1" height="9" fill="#f5475c"/>
<rect x="956" y="501" width="5" height="6" fill="#f5475c"/>
<rect x="964" y="502" width="1" height="10" fill="#f5475c"/>
<rect x="962" y="506" width="5" height="2" fill="#f5475c"/>
<rect x="970" y="506" width="1" height="2" fill="#2ebd85"/>
<rect x="968" y="507" width="5" height="1" fill="#2ebd85"/>
<rect x="976" y="500" width="1" height="8" fill="#2ebd85"/>
<rect x="974" y="503" width="5" height="5" fill="#2ebd85"/>
<rect x="982" y="501" width="1" height="9" fill="#f5475c"/>
<rect x="980" y="503" width="5" height="3" fill="#f5475c"/>
<rect x="988" y="502" width="1" height="7" fill="#f5475c"/>
<rect x="986" y="505" width="5" height="3" fill="#f5475c"/>
<rect x="992" y="507" width="5" height="5" fill="#f5475c"/>
<rect x="1000" y="504" width="1" height="7" fill="#2ebd85"/>
<rect x="998" y="508" width="5" height="3" fill="#2ebd85"/>
<rect x="1006" y="503" width="1" height="6" fill="#2ebd85"/>
<rect x="1004" y="505" width="5" height="4" fill="#2ebd85"/>
<rect x="1010" y="505" width="5" height="1" fill="#2ebd85"/>
<rect x="1018" y="499" width="1" height="8" fill="#2ebd85"/>
<rect x="1016" y="503" width="5" height="3" fill="#2ebd85"/>
<rect x="1024" y="498" width="1" height="10" fill="#f5475c"/>
<rect x="1022" y="498" width="5" height="6" fill="#f5475c"/>
<text x="1094.6" y="218.2" class="ax">0.0017000</text>
<text x="1094.6" y="249.9" class="ax">0.0016000</text>
<text x="1094.6" y="281.7" class="ax">0.0015000</text>
<text x="1094.6" y="313.4" class="ax">0.0014000</text>
<text x="1094.6" y="345.2" class="ax">0.0013000</text>
<text x="1094.6" y="376.9" class="ax">0.0012000</text>
<text x="1094.6" y="408.7" class="ax">0.0010999</text>
<text x="1094.6" y="440.4" class="ax">0.0009999</text>
<text x="1094.6" y="472.2" class="ax">0.0008999</text>
<text x="1094.6" y="535.7" class="ax">0.0006999</text>
<text x="1094.6" y="579.1" class="ax">2 M</text>
<text x="1094.6" y="612.7" class="ax">1 M</text>
<path d="M1088 495 H1155 a2 2 0 0 1 2 2 V510 a2 2 0 0 1 -2 2 H1088 Z" fill="#f5475c"/>
<text x="1094.6" y="507.8" class="ax" fill="#ffffff" style="fill:#fff">0.0007877</text>
<text x="88" y="660.6" class="ax" text-anchor="middle">29</text>
<text x="232" y="660.6" class="ax" text-anchor="middle">30</text>
<text x="376" y="660.6" class="ax" text-anchor="middle">31</text>
<text x="664" y="660.6" class="ax" text-anchor="middle">2</text>
<text x="808" y="660.6" class="ax" text-anchor="middle">3</text>
<text x="952" y="660.6" class="ax" text-anchor="middle">4</text>
<text x="1060" y="660.6" class="ax" text-anchor="middle">18:00</text>
<text x="520" y="660.6" class="ax" text-anchor="middle" font-weight="700">Feb</text>
<rect x="60" y="204" width="640" height="26" fill="#ffffff" fill-opacity="0.6"/>
<text x="65" y="221.9" style="font-size:16px;fill:#8b8e96">HOUSE/USDT · 1h · Gate</text>
<text x="495.5" y="223" style="font-size:13px;fill:#f5475c">C0.0007877</text>
<text x="572" y="223" style="font-size:13px;fill:#f5475c">-0.0000013 (−0.16%)</text>
<text x="65.2" y="561.6" style="font-size:12.5px;fill:#8b8e96">Volume</text>
<text x="116.2" y="561.6" style="font-size:12.5px;fill:#f5475c">835.91 K</text>
</svg>

<!-- left drawing toolbar -->
<svg class="ov" width="60" height="662" viewBox="0 0 60 662">
  <g fill="none" stroke="#3d6af0" stroke-width="1.2">
    <path d="M14.8 226.4 H22.8 M30 226.4 H38 M26.4 214.8 V222.8 M26.4 230 V238"/>
  </g>
  <g fill="none" stroke="#4b5068" stroke-width="1.1">
    <path d="M18.9 268.8 L32.9 254.9"/>
    <circle cx="17.3" cy="270.4" r="2.1"/>
    <circle cx="34.5" cy="253.3" r="2.1"/>
    <path d="M14.8 288.4 H37 M14.8 294.5 H34.2 M14.8 300.4 H37 M17.6 306.3 H37"/>
    <circle cx="36.4" cy="294.5" r="2.1"/>
    <circle cx="15.4" cy="306.3" r="2.1"/>
    <!-- pattern -->
    <path d="M17.6 340.2 L20 327.1 M21.5 326.6 L23.5 330.6 M26.2 331.4 L30.6 327.1 M33.4 327.8 L35 337.3 M26.4 333.3 L33.6 338.2 M18.8 340.5 L23.2 333.9"/>
    <circle cx="20.3" cy="325.1" r="1.9"/>
    <circle cx="32.3" cy="326" r="1.9"/>
    <circle cx="24.6" cy="332.3" r="1.9"/>
    <circle cx="17.3" cy="342.1" r="1.9"/>
    <circle cx="35.5" cy="339.3" r="1.9"/>
    <!-- prediction -->
    <path d="M18.8 362.5 H35.8 M18.8 372.5 H32.2 M18.8 378.5 H35.8"/>
    <circle cx="16.55" cy="362.5" r="2.2"/>
    <circle cx="16.55" cy="372.5" r="2.2"/>
    <circle cx="34.4" cy="372.5" r="2.2"/>
    <circle cx="16.55" cy="378.5" r="2.2"/>
    <!-- brush -->
    <path d="M14.4 414.2 L24 414.2 C27.3 414.2 29.4 411.6 29.4 408.9 C29.4 405.6 27 403.7 24.2 403.7 C21.6 403.7 20.7 405.3 20.1 407.2 C19.1 410 16.6 412.5 14.4 414.2 Z"/>
    <path d="M30.6 398.4 Q28.3 400.2 29.2 402.3 Q30.6 404.8 32.8 403.6 L39.2 398.3"/>
    <!-- T -->
    <path d="M19 433.9 H33.8 M26.4 433.9 V450.3 M24 450.3 H28.8 M19 433.9 V435.6 M33.8 433.9 V435.6"/>
    <!-- smiley -->
    <circle cx="26" cy="477.8" r="10.6"/>
    <path d="M23 480.1 Q23.3 482.9 26.05 482.9 Q28.8 482.9 29.1 480.1"/>
    <!-- ruler -->
    <g transform="translate(26.05 527) rotate(-44.5)">
      <rect x="-12.7" y="-3.5" width="25.4" height="7" rx="0.9"/>
      <path d="M-8.2 -3.5 V-1.6 M-5 -3.5 V0.2 M-1.8 -3.5 V-1.6 M1.4 -3.5 V0.2 M4.6 -3.5 V-1.6 M7.8 -3.5 V0.2"/>
    </g>
    <!-- zoom -->
    <circle cx="24.3" cy="561.3" r="7.7"/>
    <path d="M24.3 557.5 V565.1 M20.5 561.3 H28.1 M29.8 566.8 L33.8 570.9"/>
    <!-- magnet -->
    <path d="M18.5 620.2 V609.8 A7.4 7.4 0 0 1 33.3 609.8 V620.2 H28.4 V609.4 A2.5 2.5 0 0 0 23.4 609.4 V620.2 Z"/>
    <path d="M18.5 616.1 H23.4 M28.4 616.1 H33.3"/>
    <!-- pencil -->
    <path d="M15.6 653.2 L15.8 649.6 L27.2 638.6 Q28.8 637.6 30.2 639 Q31.2 640.4 30 641.8 L18.8 653 Z"/>
    <path d="M16.2 649.6 L19.2 652.6 M26 640.2 L28.8 643"/>
    <!-- lock -->
    <rect x="27.4" y="652.4" width="8.4" height="6.4" rx="0.8"/>
    <path d="M29.6 652.4 V649.4 A2.4 2.4 0 0 1 34.2 648.6"/>
  </g>
  <circle cx="23.45" cy="476.4" r="0.95" fill="#4b5068"/>
  <circle cx="28.55" cy="476.4" r="0.95" fill="#4b5068"/>
  <rect x="31.3" y="655" width="0.9" height="1.8" fill="#4b5068"/>
  <g fill="#4b5068"><circle cx="21.3" cy="370.3" r="0.75"/><circle cx="25.4" cy="368.4" r="0.75"/><circle cx="29.4" cy="366.5" r="0.75"/><circle cx="33.5" cy="364.6" r="0.75"/></g>
  <rect x="8" y="502" width="36" height="1" fill="#e9eaed"/>
  <rect x="8" y="587" width="36" height="1" fill="#e9eaed"/>
  <!-- collapse pill -->
  <rect x="46.5" y="586.5" width="8" height="25.6" rx="4" fill="#fff" stroke="#e3e4e8" stroke-width="1"/>
  <path d="M51.4 596.8 L49.6 599.4 L51.4 602" fill="none" stroke="#c4c6cc" stroke-width="0.9"/>
</svg>

<!-- TV logo -->
<svg class="ov" width="1165" height="662" viewBox="0 0 1165 662">
  <circle cx="84.6" cy="613.8" r="16.4" fill="#fff" stroke="#ececf0" stroke-width="0.8"/>
  <path d="M74 609.1 H82.9 V620 H78.8 V612.9 H74 Z" fill="#131722"/>
  <circle cx="85.9" cy="611" r="1.9" fill="#131722"/>
  <path d="M90.6 609.1 H95.1 L91.2 620 H86 Z" fill="#131722"/>
  <!-- bottom right hex -->
  <path d="M1122.7 651.3 H1130.2 L1133.9 657.5 L1130.2 663.7 H1122.7 L1119 657.5 Z" fill="none" stroke="#2a2e39" stroke-width="1.1"/>
  <circle cx="1126.4" cy="657.4" r="1.9" fill="none" stroke="#2a2e39" stroke-width="1.1"/>
</svg>

<!-- tooltip -->
<svg class="ov" width="1165" height="662" viewBox="0 0 1165 662">
  <path d="M344.6 199.6 L349.7 193.5 Q350.8 192.3 351.9 193.5 L356.6 199.6 Z" fill="#2e2f33"/>
</svg>
<div class="tip"><div class="tx">Added AI Pattern Reader. Instantly detect candlestick patterns.</div></div>
</div>
</body>
</html>
